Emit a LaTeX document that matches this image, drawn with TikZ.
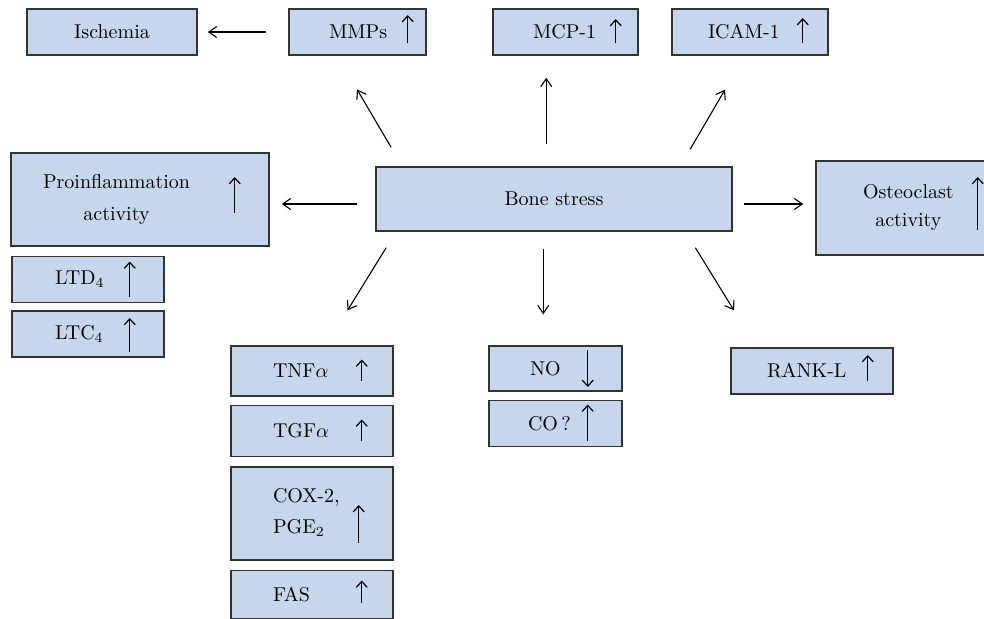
\documentclass[tikz,border=0pt]{standalone}
\usetikzlibrary{arrows.meta, positioning, calc}

\definecolor{boxblue}{RGB}{198,214,236}
% label set in from the left edge of its box
\newcommand{\padtxt}[2]{\noindent\hspace*{#1}#2}
% small trend arrow inside a box: node, x from east, y start, y end (px)
\newcommand{\trendmark}[4]{\draw[trend] ($(#1.east)+(#2,#3)$) -- ($(#1.east)+(#2,#4)$);}

\begin{document}
\begin{tikzpicture}[
    x=0.5pt, y=-0.5pt,
    font=\fontsize{10}{12}\selectfont,
    box/.style = {draw=black!80, fill=boxblue, line width=0.75pt, inner sep=0pt, minimum height=23pt, align=left},
    arrow/.style = {-{Straight Barb[length=4pt, width=5.5pt]}, line width=0.55pt},
    trend/.style = {-{Straight Barb[length=3pt, width=5.5pt]}, line width=0.6pt}
]
\useasboundingbox (0,0) rectangle (984,618);

% =========================================================
% TOP ROW
% =========================================================
\node[box, text width=85pt, align=center] (isch) at (112,32) {Ischemia};
\node[box, text width=68.5pt] (mmps) at (357.5,32) {\padtxt{20pt}{MMPs}};
\node[box, text width=72.5pt] (mcp) at (565.5,32) {\padtxt{20pt}{MCP-1}};
\node[box, text width=78pt] (icam) at (750,32) {\padtxt{18pt}{ICAM-1}};

% =========================================================
% MIDDLE ROW: Bone stress in the centre
% =========================================================
\node[box, text width=178pt, minimum height=32pt, align=center] (bone) at (554,199) {Bone stress};
\node[box, text width=129pt, minimum height=46.5pt] (proinfl) at (140,199.5)
    {\padtxt{16pt}{\begin{tabular}{@{}c@{}}Proinflammation\\[4pt]activity\end{tabular}}};
\node[box, text width=93pt, minimum height=47pt] (osteo) at (909,208)
    {\padtxt{23.5pt}{\begin{tabular}{@{}c@{}}Osteoclast\\[2pt]activity\end{tabular}}};

% Leukotrienes under proinflammation
\node[box, text width=76pt, below right=4.5pt and 0.5pt of proinfl.south west] (ltd) {\padtxt{21.5pt}{LTD$_4$}};
\node[box, text width=76pt, below=3.5pt of ltd] (ltc) {\padtxt{21.5pt}{LTC$_4$}};

% =========================================================
% BOTTOM: cytokine stack, NO/CO, RANK-L
% =========================================================
\node[box, text width=81pt, minimum height=25pt] (tnf) at (312,371) {\padtxt{21pt}{TNF$\alpha$}};
\node[box, text width=81pt, minimum height=25.5pt, below=4pt of tnf] (tgf) {\padtxt{21pt}{TGF$\alpha$}};
\node[box, text width=81pt, minimum height=46.5pt, below=4.5pt of tgf] (cox)
    {\padtxt{21pt}{\begin{tabular}{@{}l@{}}COX-2,\\[3.5pt]PGE$_2$\end{tabular}}};
\node[box, text width=81pt, minimum height=24pt, below=4.5pt of cox] (fas) {\padtxt{21pt}{FAS}};

\node[box, text width=66.5pt, minimum height=22.5pt] (no) at (555.5,368.5) {\padtxt{20.5pt}{NO}};
\node[box, text width=66.5pt, below=4pt of no] (co) {\padtxt{19.5pt}{CO\,?}};

\node[box, text width=81pt] (rank) at (812,371) {\padtxt{18pt}{RANK-L}};

% =========================================================
% TREND ARROWS inside the boxes
% =========================================================
\trendmark{mmps}{-19}{11}{-17}
\trendmark{mcp}{-23}{11}{-13}
\trendmark{icam}{-26}{11}{-14}
\trendmark{rank}{-26}{10}{-16}
\trendmark{proinfl}{-35}{13.5}{-22.5}
\trendmark{osteo}{-25}{22}{-31}
\trendmark{ltd}{-35}{17}{-18}
\trendmark{ltc}{-35}{18}{-16}
\trendmark{tnf}{-32}{9.5}{-11.5}
\trendmark{tgf}{-32}{9.5}{-11.5}
\trendmark{cox}{-35}{29.5}{-8.5}
\trendmark{fas}{-32}{8}{-14}
\trendmark{no}{-35}{-18.5}{18.5}
\trendmark{co}{-35}{17}{-19}

% =========================================================
% WIRING
% =========================================================
\draw[arrow, shorten <=11pt, shorten >=5pt] (mmps.west) -- (isch.east);

\draw[arrow, shorten <=11pt, shorten >=19.5pt] ($(bone.north west)+(27,0)$) -- ($(mmps.south west)+(49,0)$);
\draw[arrow, shorten <=11pt, shorten >=11pt] ($(bone.north west)+(171,0)$) -- ($(mcp.south west)+(54,0)$);
\draw[arrow, shorten <=9.8pt, shorten >=19.6pt] ($(bone.north west)+(305,0)$) -- ($(icam.south west)+(73.5,0)$);

\draw[arrow, shorten <=9pt, shorten >=6pt] ($(bone.west)+(0,5)$) -- ($(proinfl.east)+(0,4.5)$);
\draw[arrow, shorten <=5.5pt, shorten >=6pt] ($(bone.east)+(0,5)$) -- ($(osteo.west)+(0,-4)$);

\draw[arrow, shorten <=9.4pt, shorten >=20.5pt] ($(bone.south west)+(20.75,0)$) -- ($(tnf.north west)+(95.7,0)$);
\draw[arrow, shorten <=8.5pt, shorten >=15.5pt] ($(bone.south west)+(168,0)$) -- ($(no.north west)+(55,0)$);
\draw[arrow, shorten <=9.4pt, shorten >=21.7pt] ($(bone.south west)+(310.25,0)$) -- ($(rank.north west)+(26.5,0)$);

\end{tikzpicture}
\end{document}
